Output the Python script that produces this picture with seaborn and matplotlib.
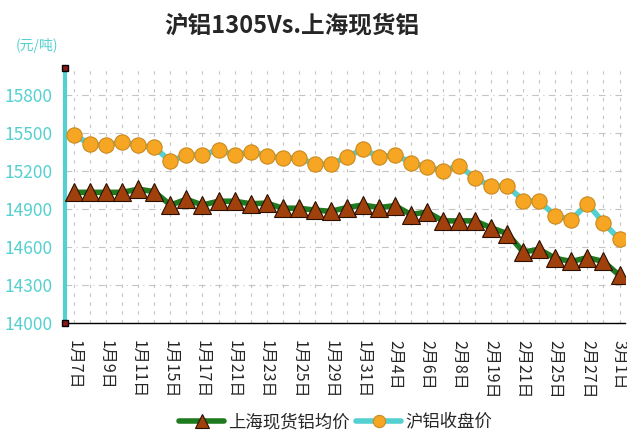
import pandas as pd
import seaborn as sns
import matplotlib.pyplot as plt
import matplotlib

matplotlib.use("Agg")

# trading days shown on the chart
dates = ["1月7日", "1月8日", "1月9日", "1月10日", "1月11日", "1月14日", "1月15日",
         "1月16日", "1月17日", "1月18日", "1月21日", "1月22日", "1月23日", "1月24日",
         "1月25日", "1月28日", "1月29日", "1月30日", "1月31日", "2月1日", "2月4日",
         "2月5日", "2月6日", "2月7日", "2月8日", "2月18日", "2月19日", "2月20日",
         "2月21日", "2月22日", "2月25日", "2月26日", "2月27日", "2月28日", "3月1日"]

spot = [15030, 15030, 15030, 15030, 15055, 15035, 14930, 14975, 14930, 14960,
        14960, 14940, 14945, 14905, 14905, 14890, 14880, 14910, 14930, 14910,
        14925, 14855, 14875, 14805, 14805, 14805, 14750, 14705, 14560, 14580,
        14510, 14485, 14515, 14485, 14375]

futures = [15480, 15410, 15400, 15430, 15400, 15385, 15275, 15325, 15325, 15365,
           15325, 15350, 15320, 15300, 15300, 15255, 15250, 15310, 15370, 15310,
           15325, 15265, 15230, 15200, 15240, 15140, 15080, 15080, 14965, 14960,
           14845, 14815, 14940, 14790, 14660]

yticks = [14000, 14300, 14600, 14900, 15200, 15500, 15800]

df = pd.DataFrame({"pos": range(len(dates)), "date": dates,
                   "spot": spot, "futures": futures})

sns.set_style("white")
plt.rcParams["font.family"] = ["Noto Sans CJK SC", "DejaVu Sans"]

cyan = "#55D0D0"
fig = plt.figure(figsize=(6.27, 4.33), dpi=100)
ax = fig.add_axes([0.104, 0.254, 0.893, 0.589])

sns.lineplot(data=df, x="pos", y="spot", ax=ax, color="#1F7A1F", lw=4,
             marker="^", markersize=13, markerfacecolor="#A0400C",
             markeredgecolor="#2a1000", markeredgewidth=0.8,
             label="上海现货铝均价", zorder=3)
sns.lineplot(data=df, x="pos", y="futures", ax=ax, color=cyan, lw=4,
             marker="o", markersize=11, markerfacecolor="#F7A623",
             markeredgecolor="#C98A20", markeredgewidth=0.8,
             label="沪铝收盘价", zorder=4)

ax.set_xlim(-0.56, 34.35)
ax.set_ylim(14000, 16010)
ax.set_yticks(yticks)
ax.set_xticks(range(len(dates)))
ax.set_xticklabels([d if i % 2 == 0 else "" for i, d in enumerate(dates)],
                   rotation=-90, fontsize=11.5, va="top")
ax.tick_params(axis="x", direction="in", length=5, width=1, color="black", pad=12)
ax.tick_params(axis="y", direction="in", length=4, width=2, colors=cyan,
               labelsize=12.5, pad=9)
ax.set_xlabel("")
ax.set_ylabel("")

ax.grid(True, axis="x", color="#C4C4C4", linestyle=(0, (3, 5)), lw=0.8)
ax.grid(True, axis="y", color="#C4C4C4", linestyle=(0, (6, 4, 1, 4)), lw=0.8)
for s in ["top", "right"]:
    ax.spines[s].set_visible(False)
ax.spines["left"].set_color(cyan)
ax.spines["left"].set_linewidth(3)
ax.spines["bottom"].set_color("black")
ax.spines["bottom"].set_linewidth(1)

# small end caps on the value axis
ax.plot([0, 0], [0, 1], transform=ax.transAxes, ls="none", marker="s",
        ms=5, mfc="#8B1A1A", mec="black", clip_on=False, zorder=6)

ax.legend_.remove()
h, l = ax.get_legend_handles_labels()
fig.legend(h, l, loc="center", bbox_to_anchor=(0.535, 0.025), ncol=2,
           frameon=False, fontsize=12.5, handlelength=2.6, columnspacing=0.4,
           handletextpad=0.2, markerscale=0.8)

fig.text(0.465, 0.94, "沪铝1305Vs.上海现货铝", ha="center", va="center",
         fontsize=17, fontweight="bold")
fig.text(0.025, 0.895, "(元/吨)", ha="left", va="center", fontsize=10, color=cyan)

plt.savefig("out.png", dpi=100)
plt.close()
